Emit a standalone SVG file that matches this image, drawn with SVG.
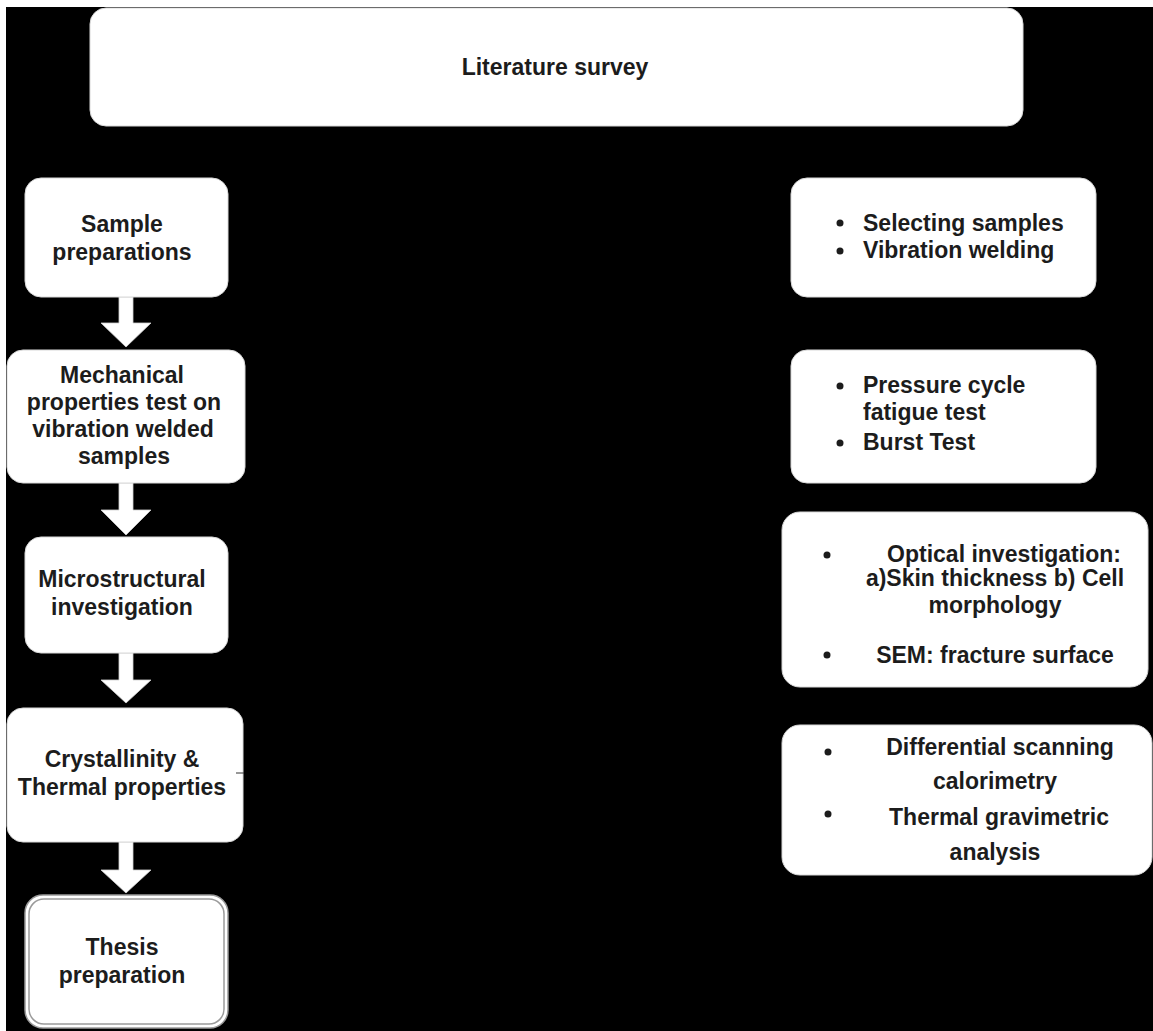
<svg xmlns="http://www.w3.org/2000/svg" width="1153" height="1031" viewBox="0 0 1153 1031">
<style>
.box{fill:#ffffff;stroke:#d8d8d8;stroke-width:1}
.t{font-family:"Liberation Sans",Arial,sans-serif;font-weight:bold;font-size:23px;fill:#1c1c1c}
.c{text-anchor:middle}
.arrow{fill:#ffffff;stroke:#d0d0d0;stroke-width:0.8}
.dot{fill:#1c1c1c}
</style>
<rect x="0" y="0" width="1153" height="1031" fill="#ffffff"/>
<rect x="6" y="7" width="1147" height="1024" fill="#000000"/>

<g id="connectors">
<path class="arrow" d="M119,297 H133 V323 H151 L126,347 L101,323 H119 Z"/>
<path class="arrow" d="M119,483 H133 V510 H151 L126,535 L101,510 H119 Z"/>
<path class="arrow" d="M119,653 H133 V680 H151 L126,703 L101,680 H119 Z"/>
<path class="arrow" d="M119,842 H133 V870 H151 L126,893 L101,870 H119 Z"/>
</g>

<g id="literature">
<rect class="box" x="90" y="8" width="933" height="118" rx="16"/>
<text class="t c" x="555" y="75">Literature survey</text>
</g>

<g id="sample">
<rect class="box" x="25" y="178" width="203" height="119" rx="16"/>
<text class="t c" x="122" y="232">Sample</text>
<text class="t c" x="122" y="260">preparations</text>
</g>

<g id="mechanical">
<rect class="box" x="7" y="350" width="238" height="133" rx="16"/>
<text class="t c" x="122" y="383">Mechanical</text>
<text class="t c" x="124" y="410">properties test on</text>
<text class="t c" x="123" y="437">vibration welded</text>
<text class="t c" x="124" y="464">samples</text>
</g>

<g id="micro">
<rect class="box" x="25" y="537" width="203" height="116" rx="16"/>
<text class="t c" x="122" y="587">Microstructural</text>
<text class="t c" x="122" y="615">investigation</text>
</g>

<g id="crystal">
<rect class="box" x="7" y="708" width="236" height="134" rx="16"/>
<text class="t c" x="122" y="767">Crystallinity &amp;</text>
<text class="t c" x="122" y="795">Thermal properties</text>
<line x1="236" y1="773" x2="244" y2="773" stroke="#333" stroke-width="1"/>
</g>

<g id="thesis">
<rect x="25" y="895" width="203" height="133" rx="18" fill="#ffffff" stroke="#9a9a9a" stroke-width="1.5"/>
<rect x="29" y="899" width="195" height="125" rx="15" fill="none" stroke="#9a9a9a" stroke-width="1.5"/>
<text class="t c" x="122" y="955">Thesis</text>
<text class="t c" x="122" y="983">preparation</text>
</g>

<g id="r1">
<rect class="box" x="791" y="178" width="305" height="119" rx="16"/>
<circle class="dot" cx="840" cy="223" r="3.5"/>
<circle class="dot" cx="840" cy="251" r="3.5"/>
<text class="t" x="863" y="231">Selecting samples</text>
<text class="t" x="863" y="258">Vibration welding</text>
</g>

<g id="r2">
<rect class="box" x="791" y="350" width="305" height="133" rx="16"/>
<circle class="dot" cx="840" cy="386" r="3.5"/>
<circle class="dot" cx="840" cy="443" r="3.5"/>
<text class="t" x="863" y="393">Pressure cycle</text>
<text class="t" x="863" y="420">fatigue test</text>
<text class="t" x="863" y="450">Burst Test</text>
</g>

<g id="r3">
<rect class="box" x="782" y="512" width="366" height="175" rx="18"/>
<circle class="dot" cx="827" cy="555" r="3.5"/>
<circle class="dot" cx="827" cy="655" r="3.5"/>
<text class="t c" x="1004" y="562">Optical investigation:</text>
<text class="t c" x="995" y="586">a)Skin thickness b) Cell</text>
<text class="t c" x="995" y="613">morphology</text>
<text class="t c" x="995" y="663">SEM: fracture surface</text>
</g>

<g id="r4">
<rect class="box" x="782" y="725" width="370" height="150" rx="18"/>
<circle class="dot" cx="828" cy="752" r="3.5"/>
<circle class="dot" cx="828" cy="814" r="3.5"/>
<text class="t c" x="1000" y="755">Differential scanning</text>
<text class="t c" x="995" y="789">calorimetry</text>
<text class="t c" x="999" y="825">Thermal gravimetric</text>
<text class="t c" x="995" y="860">analysis</text>
</g>
</svg>
